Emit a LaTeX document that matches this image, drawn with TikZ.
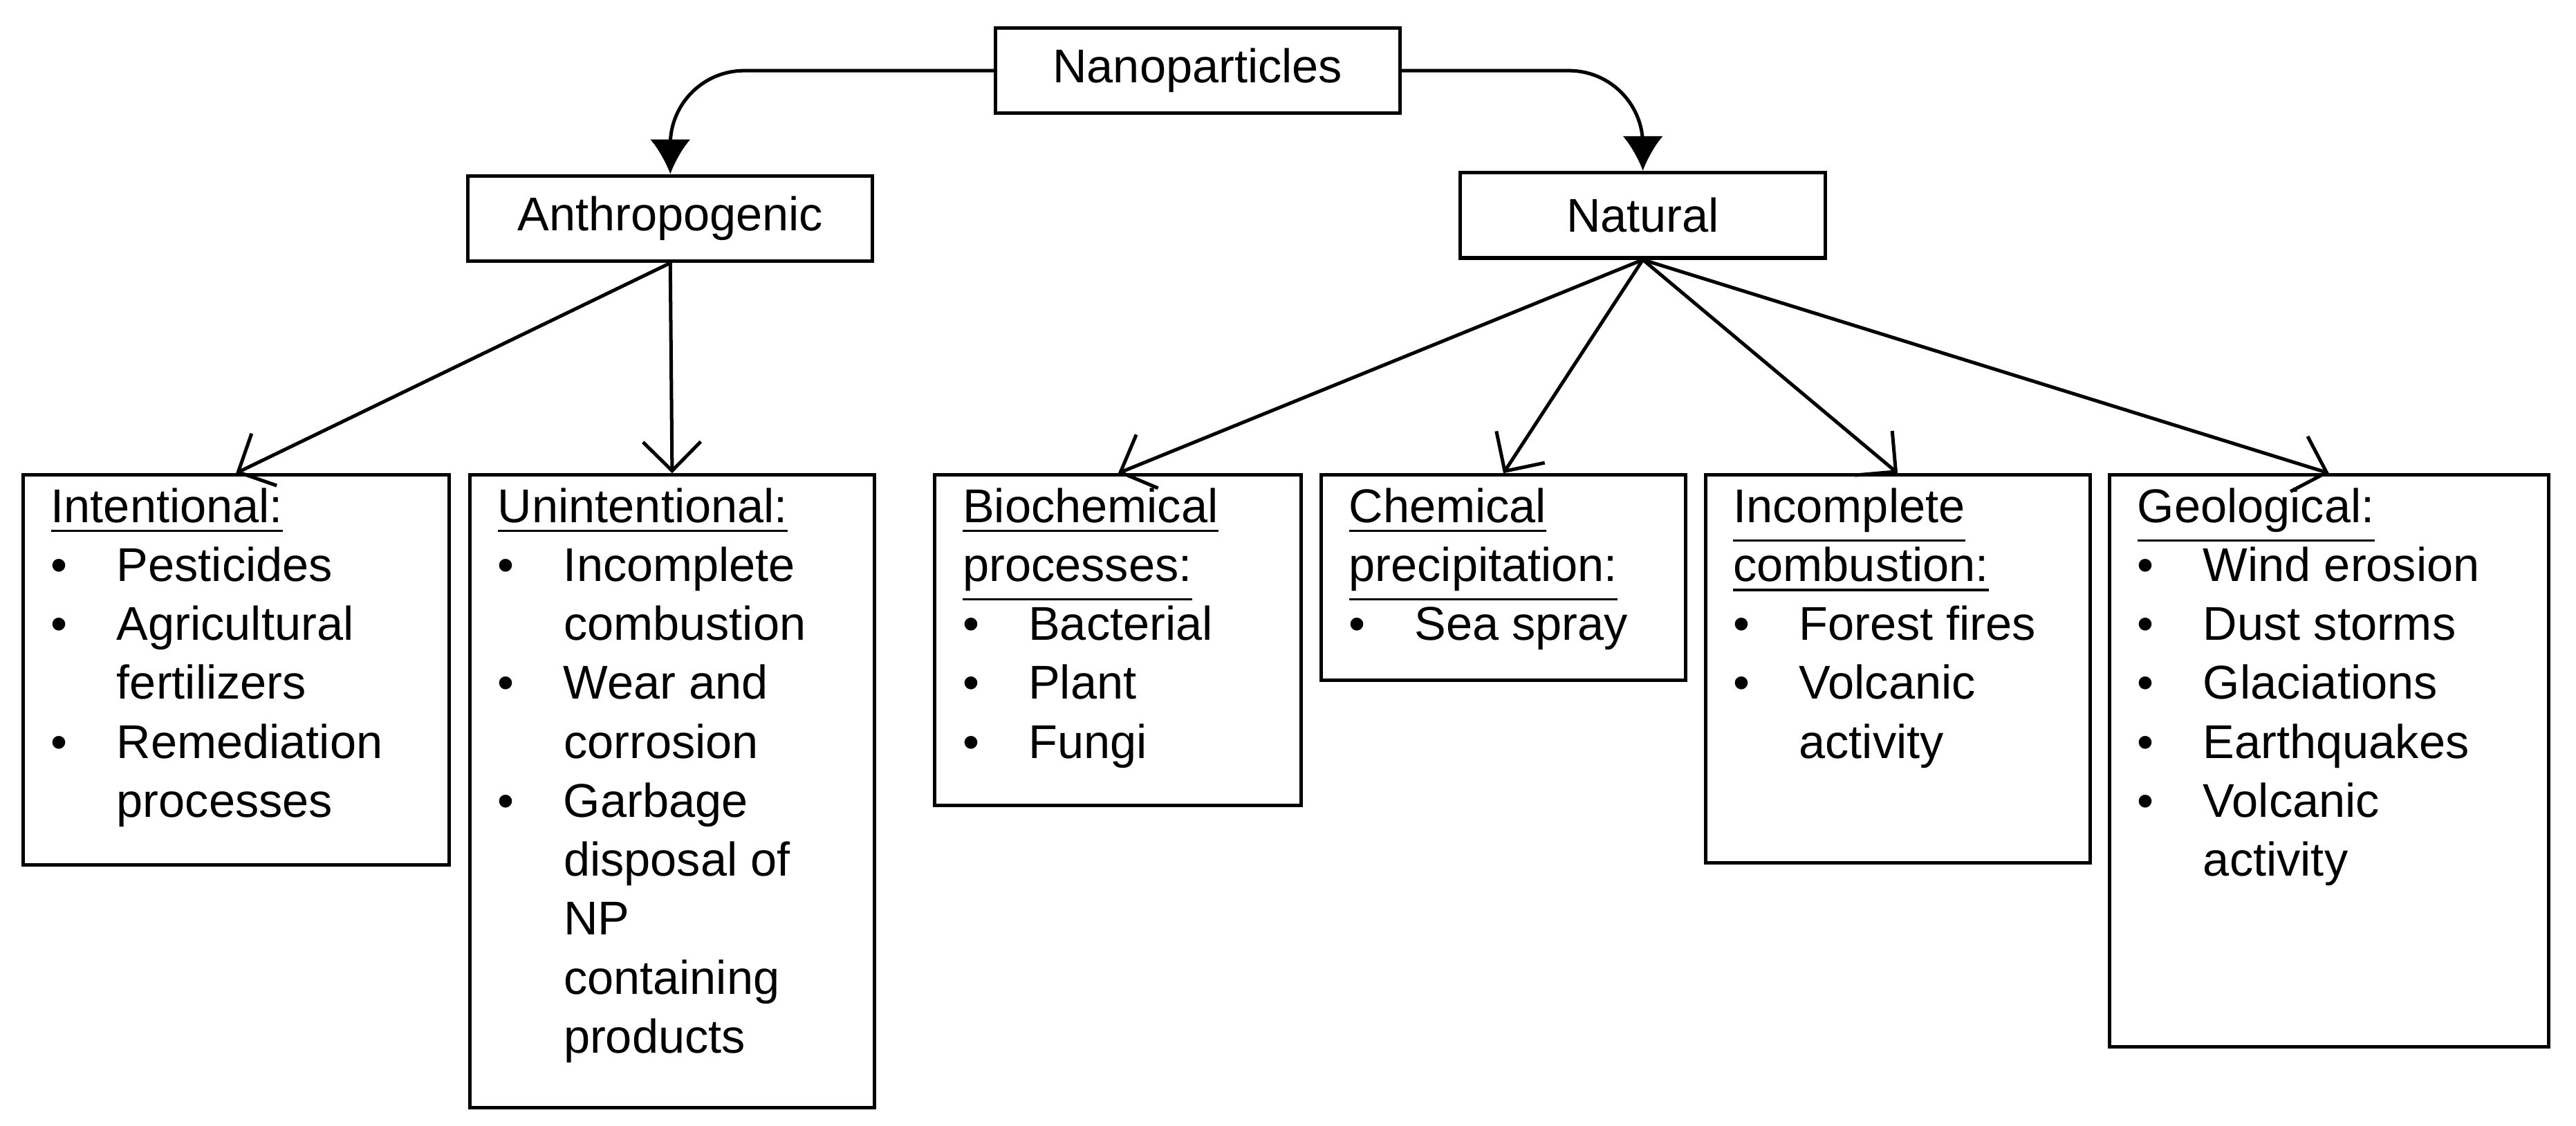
\documentclass[tikz,border=0pt]{standalone}
\usepackage{fontspec}
\setmainfont{Liberation Sans}
\usetikzlibrary{positioning,arrows.meta}
\newcommand\bul{\makebox[0.4cm][l]{\textbullet}}
\newcommand\ind{\hspace*{0.4cm}}
\newcommand\leafbox[3]{\parbox[t][#2][t]{#1}{\raggedright #3}}
\begin{document}
\begin{tikzpicture}[x=0.01cm,y=-0.01cm,
  font=\fontsize{8.2}{10.2}\selectfont,
  head/.style={draw,semithick,minimum height=0.52cm,inner sep=0pt},
  leaf/.style={draw,semithick,anchor=north west,inner xsep=0.17cm,inner ysep=0.08cm},
  leafarr/.style={-{Straight Barb[length=5pt,width=10pt]},semithick},
  toparr/.style={-{Latex[length=6pt,width=7pt]},semithick,rounded corners=0.45cm}]
  \useasboundingbox (0,0) rectangle (1568,685);
  % Top levels
  \node[head,minimum width=2.46cm] (nano) at (729,43) {Nanoparticles};
  \node[head,minimum width=2.46cm] (anthro) at (408,133) {Anthropogenic};
  \node[head,minimum width=2.22cm] (natural) at (1000,131) {Natural};
  % Leaves
  \node[leaf] (intent) at (13,288) {\leafbox{2.25cm}{2.21cm}
    {\underline{Intentional:}\\ \bul Pesticides\\ \bul Agricultural\\ \ind fertilizers\\ \bul Remediation\\ \ind processes}};
  \node[leaf] (unint) at (285,288) {\leafbox{2.12cm}{3.69cm}
    {\underline{Unintentional:}\\ \bul Incomplete\\ \ind combustion\\ \bul Wear and\\ \ind corrosion\\ \bul Garbage\\ \ind disposal of\\ \ind NP\\ \ind containing\\ \ind products}};
  \node[leaf] (bio) at (568,288) {\leafbox{1.89cm}{1.85cm}
    {\underline{Biochemical}\\ \underline{processes:}\\ \bul Bacterial\\ \bul Plant\\ \bul Fungi}};
  \node[leaf] (chem) at (803,288) {\leafbox{1.88cm}{1.09cm}
    {\underline{Chemical}\\ \underline{precipitation:}\\ \bul Sea spray}};
  \node[leaf] (incompl) at (1037,288) {\leafbox{2.0cm}{2.2cm}
    {\underline{Incomplete}\\ \underline{combustion:}\\ \bul Forest fires\\ \bul Volcanic\\ \ind activity}};
  \node[leaf] (geo) at (1283,288) {\leafbox{2.33cm}{3.32cm}
    {\underline{Geological:}\\ \bul Wind erosion\\ \bul Dust storms\\ \bul Glaciations\\ \bul Earthquakes\\ \bul Volcanic\\ \ind activity}};
  % Connectors
  \draw[toparr] (nano.west) -| (anthro.north);
  \draw[toparr] (nano.east) -| (natural.north);
  \foreach \t in {intent,unint}
    \draw[leafarr] (anthro.south) -- (\t.north);
  \foreach \t in {bio,chem,incompl,geo}
    \draw[leafarr] (natural.south) -- (\t.north);
\end{tikzpicture}
\end{document}
